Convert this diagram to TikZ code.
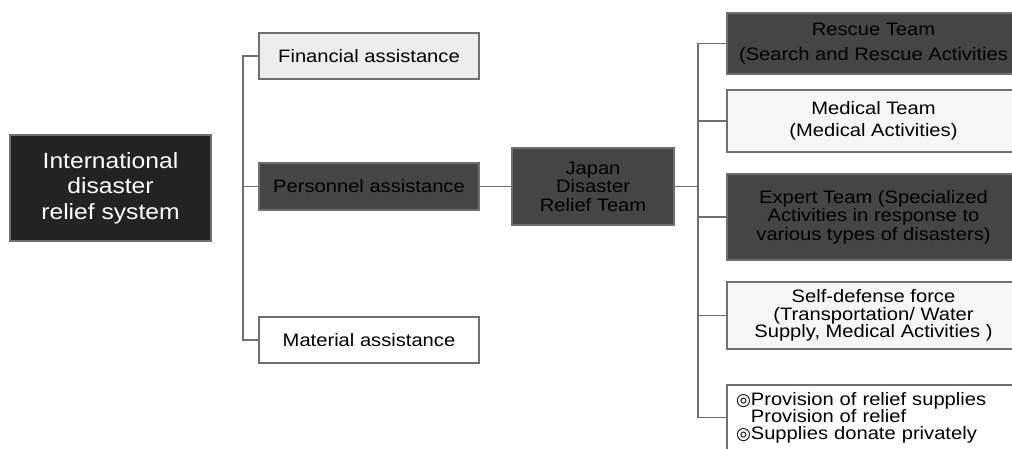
\documentclass[tikz,border=0pt]{standalone}
\usepackage{fontspec}
\setmainfont{Liberation Sans}[FakeStretch=1.12]
\newfontfamily\symfont{DejaVu Sans}
\newcommand{\dmark}{{\symfont\fontsize{17}{17}\selectfont ◎}}
\definecolor{rootdark}{HTML}{232323}
\definecolor{boxdark}{HTML}{454545}
\definecolor{boxlight}{HTML}{EDEDED}
\definecolor{boxpale}{HTML}{F6F6F6}
\definecolor{linegray}{HTML}{707070}

\begin{document}
\begin{tikzpicture}[
  x=1pt, y=-1pt,
  every node/.style={draw=linegray, line width=1.1pt, inner sep=0pt, align=center, font=\fontsize{18}{17.5}\selectfont},
  darkbox/.style={fill=boxdark, text=black},
  lightbox/.style={fill=boxlight},
  palebox/.style={fill=boxpale},
  plainbox/.style={fill=white},
  link/.style={draw=linegray, line width=1.2pt}
]
\useasboundingbox (0,0) rectangle (1012,448);

% left part
\node[fill=rootdark, text=white, minimum width=201, minimum height=106, font=\fontsize{22}{25.5}\selectfont] (idrs) at (110.5,188) {International\\disaster\\relief system};
\node[lightbox, minimum width=220, minimum height=46] (fin) at (369,56) {Financial assistance};
\node[darkbox, minimum width=220, minimum height=47] (pers) at (369,186.5) {Personnel assistance};
\node[plainbox, minimum width=220, minimum height=46] (mat) at (369,340) {Material assistance};
\node[darkbox, minimum width=162, minimum height=77, font=\fontsize{18}{18.5}\selectfont] (jdrt) at (593,186.5) {Japan\\Disaster\\Relief Team};

% teams
\node[darkbox, minimum width=293, minimum height=61, font=\fontsize{18}{25}\selectfont] (rescue) at (873.5,43.5) {Rescue Team\\(Search and Rescue Activities};
\node[palebox, minimum width=293, minimum height=62, font=\fontsize{18}{22}\selectfont] (medical) at (873.5,121) {Medical Team\\(Medical Activities)};
\node[darkbox, minimum width=293, minimum height=86, font=\fontsize{18}{18.5}\selectfont] (expert) at (873.5,217) {Expert Team (Specialized\\Activities in response to\\various types of disasters)};
\node[palebox, minimum width=293, minimum height=67] (sdf) at (873.5,315.5) {Self-defense force\\(Transportation/ Water\\Supply, Medical Activities )};
\node[plainbox, minimum width=293, minimum height=65, align=left, inner xsep=9pt, text width=275, font=\fontsize{18}{17}\selectfont] (supply) at (873.5,417.5) {\dmark Provision of relief supplies\\\phantom{\dmark}Provision of relief\\\dmark Supplies donate privately};

% connectors
\coordinate (lspine) at (243,0);
\coordinate (rspine) at (698,0);
\draw[link] (fin.west) -| (lspine |- mat.west) -- (mat.west);
\draw[link] (pers.west) -- (lspine |- pers.west);
\draw[link] (pers.east) -- (jdrt.west);
\draw[link] (jdrt.east) -- (rspine |- jdrt.east);
\draw[link] (rescue.west) -| (rspine |- supply.west) -- (supply.west);
\foreach \n in {medical, expert, sdf}
  \draw[link] (\n.west) -- (rspine |- \n.west);
\end{tikzpicture}
\end{document}
